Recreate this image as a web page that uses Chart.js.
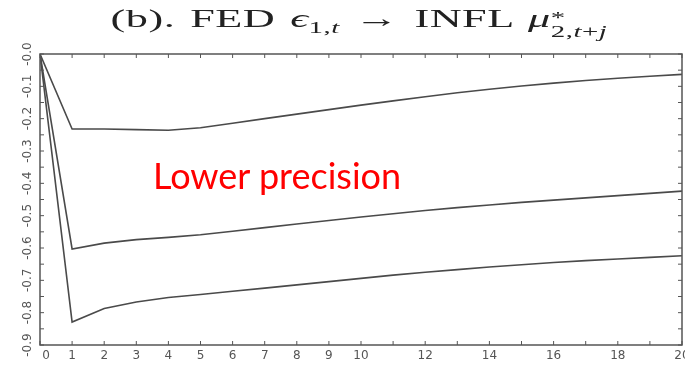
<!DOCTYPE html>
<html>
<head>
<script src="https://cdn.jsdelivr.net/npm/chart.js@4.4.1/dist/chart.umd.min.js"></script>
<style>
  html, body { margin:0; padding:0; background:#fff; overflow:hidden; width:685px; height:365px; }
  #wrap { position:relative; width:685px; height:365px; }
  #title {
    position:absolute; top:4px; left:59px; width:600px; text-align:center;
    font-family:'Liberation Serif', serif; font-size:26px; color:#222; white-space:nowrap;
    transform:scaleX(1.7); transform-origin:50% 50%; word-spacing:2px; letter-spacing:0.3px;
  }
  #title i { font-style:italic; }
  #title .s { font-size:17px; position:relative; top:6px; }
  #title .ss { display:inline-block; vertical-align:-10px; line-height:14px; font-size:17px; text-align:left; }
  #note {
    position:absolute; left:153px; top:153px;
    font-family:Lato, sans-serif; font-size:36px; color:#ff0000; white-space:nowrap;
  }
  #c { position:absolute; left:0; top:0; }
</style>
</head>
<body>
<div id="wrap">
  <canvas id="c" width="700" height="365"></canvas>
  <div id="title">(b). FED <i>ϵ</i><span class="s">1,<i>t</i></span> → INFL <i>μ</i><span class="ss">*<br>2,<i>t</i>+<i>j</i></span></div>
  <div id="note">Lower precision</div>
</div>
<script>
  // horizon j = 0..20
  let horizon = [0,1,2,3,4,5,6,7,8,9,10,11,12,13,14,15,16,17,18,19,20];
  let upper  = [0,-0.232,-0.232,-0.234,-0.236,-0.228,-0.214,-0.200,-0.186,-0.172,-0.158,-0.145,-0.132,-0.120,-0.109,-0.099,-0.090,-0.082,-0.075,-0.069,-0.063];
  let middle = [0,-0.603,-0.585,-0.574,-0.567,-0.559,-0.548,-0.537,-0.526,-0.515,-0.504,-0.494,-0.484,-0.475,-0.467,-0.459,-0.452,-0.445,-0.438,-0.431,-0.424];
  let lower  = [0,-0.829,-0.787,-0.767,-0.753,-0.744,-0.734,-0.724,-0.714,-0.704,-0.694,-0.684,-0.675,-0.667,-0.659,-0.652,-0.645,-0.639,-0.634,-0.629,-0.624];
  let xLabels = {0:'\u2002\u20020',1:'1',2:'2',3:'3',4:'4',5:'5',6:'6',7:'7',8:'8',9:'9',10:'10',12:'12',14:'14',16:'16',18:'18',20:'20'};
  let yTicks = [0,-0.1,-0.2,-0.3,-0.4,-0.5,-0.6,-0.7,-0.8,-0.9];

  const LINE = '#4a4a4a';
  function pts(arr){ return arr.map((v,i) => ({x: horizon[i], y: v})); }
  function ds(arr){ return {data: pts(arr), borderColor: LINE, borderWidth: 1.6, pointRadius: 0, tension: 0, fill: false}; }

  // frame, inward ticks, rotated y labels
  const frame = {
    id: 'frame',
    afterDraw(chart){
      const {ctx, chartArea: a, scales: {x, y}} = chart;
      ctx.save();
      ctx.strokeStyle = '#555'; ctx.lineWidth = 1.5;
      ctx.strokeRect(a.left, a.top, a.right - a.left, a.bottom - a.top);
      ctx.lineWidth = 1;
      for (let i = 0; i <= 20; i++) {
        const px = x.getPixelForValue(i);
        ctx.beginPath();
        ctx.moveTo(px, a.bottom); ctx.lineTo(px, a.bottom - 4);
        ctx.moveTo(px, a.top); ctx.lineTo(px, a.top + 4);
        ctx.stroke();
      }
      for (let k = 0; k <= 18; k++) {
        const py = y.getPixelForValue(-k * 0.05);
        ctx.beginPath();
        ctx.moveTo(a.left, py); ctx.lineTo(a.left + 4, py);
        ctx.moveTo(a.right, py); ctx.lineTo(a.right - 4, py);
        ctx.stroke();
      }
      ctx.fillStyle = '#555';
      ctx.font = '12px "DejaVu Sans", sans-serif';
      ctx.textAlign = 'center'; ctx.textBaseline = 'middle';
      yTicks.forEach(v => {
        const py = y.getPixelForValue(v);
        ctx.save();
        ctx.translate(28, py);
        ctx.rotate(-Math.PI / 2);
        ctx.fillText('-' + Math.abs(v).toFixed(1), 0, 0);
        ctx.restore();
      });
      ctx.restore();
    }
  };

  new Chart(document.getElementById('c'), {
    type: 'line',
    data: { datasets: [ds(upper), ds(middle), ds(lower)] },
    options: {
      responsive: false,
      animation: false,
      layout: { padding: { top: 54, right: 18, left: 0, bottom: 0 } },
      plugins: { legend: { display: false }, tooltip: { enabled: false }, title: { display: false } },
      scales: {
        x: {
          type: 'linear', min: 0, max: 20,
          grid: { display: false, drawTicks: false },
          border: { display: false },
          ticks: {
            stepSize: 1, autoSkip: false, maxRotation: 0, padding: 4,
            color: '#555', font: { family: '"DejaVu Sans", sans-serif', size: 12 },
            callback: v => xLabels[v] || ''
          },
          afterFit: s => { s.height = 20; }
        },
        y: {
          min: -0.9, max: 0,
          grid: { display: false, drawTicks: false },
          border: { display: false },
          ticks: { display: false },
          afterFit: s => { s.width = 40; }
        }
      }
    },
    plugins: [frame]
  });
</script>
</body>
</html>
